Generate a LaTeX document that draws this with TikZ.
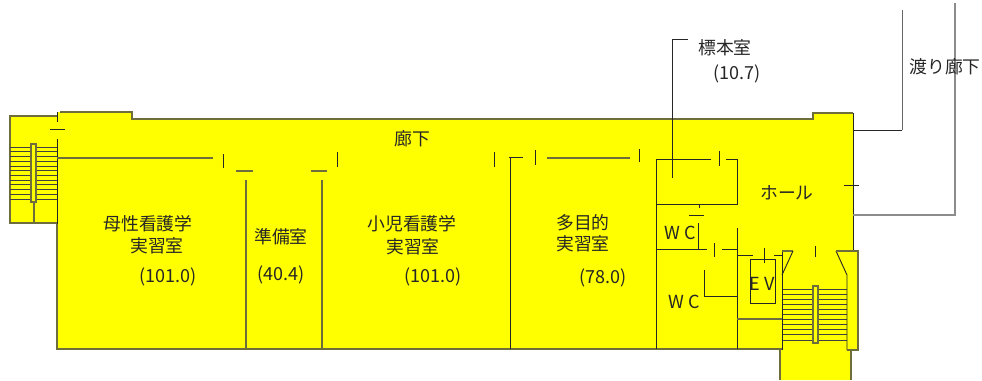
\documentclass[tikz,border=0pt]{standalone}
\usepackage{fontspec}
\setmainfont{Noto Sans CJK JP}
\usepackage{xcolor}
\definecolor{floorfill}{HTML}{FFFF00}
\definecolor{softwall}{HTML}{6E6E3C}
\tikzset{
    wall/.style={draw=black!85, line width=0.9pt},
    softwall/.style={draw=softwall, line width=1.3pt},
    grayline/.style={draw=black!45, line width=1.5pt},
    tread/.style={draw=black!75, line width=0.65pt},
    label/.style={text=black!85, font=\fontsize{17.8}{20}\selectfont, inner sep=0pt},
    smalllabel/.style={text=black!85, font=\fontsize{18}{20}\selectfont, inner sep=0pt}
}

\begin{document}
\begin{tikzpicture}[x=1pt, y=-1pt]
        \useasboundingbox (0, 0) rectangle (982, 380);
        % Draw the floor
        \fill [floorfill] (10, 116) -- (57, 116) -- (57, 112) -- (132, 112) -- (132, 119) -- (813, 119) -- (813, 113) -- (853, 113) -- (853, 251) -- (858, 251) -- (858, 350) -- (851, 350) -- (851, 380) -- (780, 380) -- (780, 350) -- (57, 349) -- (57, 223) -- (10, 223) -- cycle;
        % Outer walls
        \draw [softwall] (57, 116) -- (10, 116) -- (10, 223) -- (57, 223);
        \draw [softwall] (60, 112) -- (132, 112) -- (132, 119) -- (813, 119) -- (813, 113) -- (853, 113);
        \draw [wall] (853, 113) -- (853, 251);
        \draw [wall] (57, 112) -- (57, 122);
        \draw [wall] (57, 139) -- (57, 224);
        \draw [softwall] (57, 224) -- (57, 349) -- (782, 349);
        \draw [softwall] (780, 350) -- (780, 380);
        \draw [softwall] (851, 350) -- (851, 380);
        % Left stairs
        \foreach \y in {147, 151.7, 156.4, 161.2, 165.9, 170.6, 175.3, 180, 184.7, 189.5, 194.2, 199} {
            \draw [tread] (10, \y) -- (57, \y);
        }
        \draw [softwall, fill=floorfill] (31, 144) rectangle (36, 202);
        \draw [softwall] (34, 202) -- (34, 223);
        \draw [wall] (50, 129) -- (65, 129);
        % Corridor walls and doors
        \draw [softwall] (57, 158) -- (213, 158);
        \draw [softwall] (547, 158) -- (630, 158);
        \foreach \x/\ya/\yb in {223/154/168, 337/152/167, 494/152/167, 535/150/165, 639/149/162} {
            \draw [wall] (\x, \ya) -- (\x, \yb);
        }
        \draw [softwall] (236, 171) -- (253, 171);
        \draw [softwall] (311, 171) -- (327, 171);
        \draw [wall] (509, 157) -- (523, 157);
        % Partitions
        \draw [softwall] (246, 180) -- (246, 349);
        \draw [softwall] (322, 180) -- (322, 349);
        \draw [wall] (510, 157) -- (510, 349);
        % Specimen room
        \draw [wall] (711, 159) -- (656, 159) -- (656, 349);
        \draw [wall] (726, 159) -- (737, 159) -- (737, 204) -- (656, 204);
        \draw [wall] (719, 151) -- (719, 166);
        \draw [wall] (688, 39) -- (672, 39) -- (672, 178);
        % Toilets
        \draw [wall] (699, 204) -- (699, 208);
        \draw [wall] (689, 215) -- (704, 215);
        \draw [wall] (698, 223) -- (698, 249);
        \draw [wall] (656, 249) -- (707, 249);
        \draw [wall] (714, 243) -- (714, 257);
        \draw [wall] (722, 249) -- (737, 249);
        \draw [wall] (737, 228) -- (737, 349);
        \draw [wall] (704, 270) -- (704, 296) -- (737, 296);
        % Elevator
        \draw [wall] (737, 255) -- (753, 255);
        \draw [wall] (774, 255) -- (782, 255);
        \draw [wall] (764, 248) -- (764, 263);
        \draw [wall] (750, 259) rectangle (775, 303);
        \draw [softwall] (737, 319) -- (782, 319);
        % Right stairs
        \foreach \y in {289, 294.1, 299.2, 304.3, 309.4, 314.5, 319.5, 324.6, 329.7, 334.8, 340} {
            \draw [tread] (782, \y) -- (847, \y);
        }
        \draw [softwall, fill=floorfill] (813, 286) rectangle (818, 343);
        \draw [wall] (782, 350) -- (782, 251);
        \draw [softwall] (782, 251) -- (793, 251);
        \draw [wall] (793, 251) -- (782, 275);
        \draw [wall] (836, 251) -- (847, 275) -- (847, 350);
        \draw [softwall] (836, 251) -- (858, 251) -- (858, 350) -- (847, 350);
        \draw [wall] (815, 246) -- (815, 257);
        % Hall door and connecting corridor
        \draw [wall] (844, 185) -- (859, 185);
        \draw [wall] (853, 130) -- (902, 130);
        \draw [draw=black!60, line width=1pt] (902, 130) -- (902, 10);
        \draw [grayline] (853, 215) -- (955, 215) -- (955, 3);
        % Labels
        \node [label] (corridor) at (412, 139) {廊下};
        \node [label] (maternalroom) at (148, 224) {母性看護学};
        \node [label] (maternalroomb) at (157, 246) {実習室};
        \node [smalllabel] (maternalarea) at (168, 277) {(101.0)};
        \node [label] (prepnode) at (281, 237) {準備室};
        \node [smalllabel] (preparea) at (281, 275) {(40.4)};
        \node [label] (childroom) at (412, 224) {小児看護学};
        \node [label] (childroomb) at (413, 247) {実習室};
        \node [smalllabel] (childarea) at (433, 277) {(101.0)};
        \node [label] (multiroom) at (583, 223) {多目的};
        \node [label] (multiroomb) at (583, 244) {実習室};
        \node [smalllabel] (multiarea) at (603, 278) {(78.0)};
        \node [label] (specimen) at (725, 48) {標本室};
        \node [smalllabel] (specimenarea) at (737, 74) {(10.7)};
        \node [label] (bridge) at (945, 67) {渡り廊下};
        \node [label] (hall) at (787, 193) {ホール};
        \node [smalllabel] (wcupper) at (680, 233) {W C};
        \node [smalllabel] (wclower) at (684, 302) {W C};
        \node [smalllabel] (evlabel) at (762, 284) {E V};
    \end{tikzpicture}
\end{document}
